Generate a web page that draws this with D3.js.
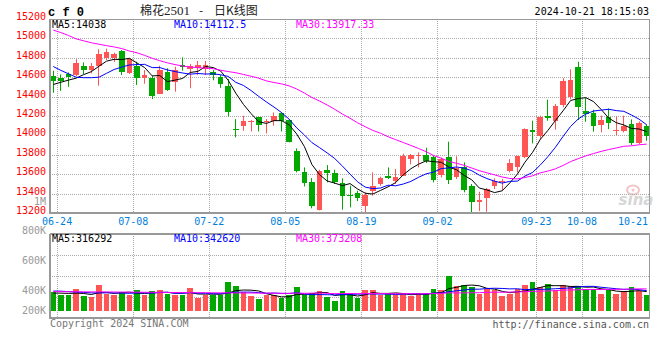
<!DOCTYPE html>
<html><head><meta charset="utf-8">
<script src="https://cdn.jsdelivr.net/npm/d3@7"></script>
<style>body{margin:0;background:#fff}svg{display:block}</style>
</head><body><svg id="c" width="660" height="360"></svg>
<script>
const dates = ["06-24","06-25","06-26","06-27","06-28","07-01","07-02","07-03","07-04","07-05",
"07-08","07-09","07-10","07-11","07-12","07-15","07-16","07-17","07-18","07-19",
"07-22","07-23","07-24","07-25","07-26","07-29","07-30","07-31","08-01","08-02",
"08-05","08-06","08-07","08-08","08-09","08-12","08-13","08-14","08-15","08-16",
"08-19","08-20","08-21","08-22","08-23","08-26","08-27","08-28","08-29","08-30",
"09-02","09-03","09-04","09-05","09-06","09-09","09-10","09-11","09-12","09-13",
"09-18","09-19","09-20","09-23","09-24","09-25","09-26","09-27","09-30",
"10-08","10-09","10-10","10-11","10-14","10-15","10-16","10-17","10-18","10-21"];
const openP = [14611,14590,14628,14621,14718,14670,14719,14801,14795,14873,
14646,14719,14595,14595,14430,14650,14547,14726,14681,14698,
14688,14654,14601,14505,14070,14093,14141,14186,14134,14151,
14227,14162,13842,13619,13523,13234,13646,13612,13512,13385,
13406,13275,13426,13495,13584,13526,13584,13752,13790,13797,
13773,13591,13780,13567,13670,13474,13309,13351,13474,13516,
13636,13670,13773,14055,13997,14203,14151,14313,14399,
14702,14254,14230,14110,14193,14045,14048,14117,13918,14100];
const highP = [14666,14628,14649,14786,14752,14746,14888,14894,14853,14880,
14795,14760,14674,14615,14719,14692,14708,14805,14736,14767,
14767,14674,14622,14581,14168,14203,14158,14192,14168,14237,
14237,14168,13866,13670,13560,13646,13694,13646,13557,13481,
13430,13413,13619,13574,13670,13653,13811,13808,13825,13873,
13790,13773,13935,13784,13722,13499,13419,13457,13557,13550,
13756,13790,14072,14151,14203,14368,14323,14590,14681,
14760,14385,14265,14203,14278,14196,14203,14165,14144,14113];
const lowP = [14439,14460,14501,14611,14632,14640,14512,14777,14757,14623,
14633,14520,14533,14375,14427,14458,14450,14667,14486,14623,
14623,14568,14491,14196,13980,14048,14041,14041,14020,14100,
14041,13928,13619,13474,13248,13227,13516,13499,13234,13258,
13323,13200,13378,13481,13550,13499,13581,13701,13670,13715,
13516,13567,13499,13550,13413,13200,13220,13213,13447,13430,
13619,13619,13766,13918,13955,14151,14059,14290,14372,
14159,14141,14038,14031,14065,14003,14031,13900,13911,13945];
const closeP = [14563,14559,14597,14742,14673,14715,14839,14857,14839,14657,
14784,14595,14623,14409,14674,14471,14674,14708,14718,14726,
14726,14620,14526,14237,14060,14151,14148,14110,14148,14203,
14151,13935,13632,13509,13268,13632,13608,13523,13378,13375,
13354,13389,13481,13564,13560,13574,13790,13793,13797,13732,
13536,13756,13543,13663,13440,13309,13330,13447,13526,13533,
13712,13784,14065,14035,14193,14175,14299,14561,14571,
14296,14217,14100,14158,14124,14055,14100,13921,14130,13990];
const volume = [319000,274000,263000,364000,250000,233000,431000,289000,274000,314000,
274000,347000,263000,330000,347000,280000,274000,274000,381000,218000,
274000,269000,263000,487000,417000,325000,258000,196000,263000,261000,
213000,261000,403000,263000,302000,333000,241000,164000,330000,297000,
224000,347000,347000,263000,297000,263000,297000,246000,302000,280000,
364000,347000,582000,414000,431000,403000,291000,364000,347000,246000,
291000,364000,431000,487000,403000,448000,358000,431000,420000,
414000,375000,375000,280000,358000,280000,336000,403000,336000,270000];
// moving-average values for days whose window starts before the first candle
const ma5Pre = [14525,14548,14570,14590];
const ma10Pre = [14710,14670,14635,14600,14595,14595,14600,14640,14680];
const ma30Pre = [15085,15060,15030,14995,14975,14955,14940,14925,14912,14895,14870,14852,14825,14795,14770,
14748,14730,14715,14705,14698,14694,14688,14672,14658,14646,14628,14610,14590,14562];
const volMa5Pre = [300000,300000,295000,300000];
const volMa10Pre = [335000,333000,325000,318000,312000,305000,303000,305000,303000];
const volMa30Pre = [325000,325000,324000,323000,322000,321000,321000,320000,319000,318000,317000,316000,315000,314000,313000,
312000,311000,310000,309000,308000,307000,306000,305000,304000,303000,303000,302000,301000,300000];
const priceTicks = [15200,15000,14800,14600,14400,14200,14000,13800,13600,13400,13200];
const volTickValues = [1000000,800000,600000,400000,200000];
const volTickLabels = ["1M","800K","600K","400K","200K"];
const xTickLabels = ["06-24","07-08","07-22","08-05","08-19","09-02","09-23","10-08","10-21"];
const maNames = ["MA5","MA10","MA30"];
const priceMaText = ["14038","14112.5","13917.33"];
const volMaText = ["316292","342620","373208"];
const titleParts = ["棉花","2501","-","日K线图"];
const symbolText = "c f 0";
const stamp = "2024-10-21 18:15:03";
const copyText = "Copyright 2024 SINA.COM";
const urlText = "http://finance.sina.com.cn";

// ---------- layout & styles ----------
const L = 50, R = 649, pTop = 19, pBot = 213, vTop = 234, vBot = 318;
const UP = "#ff5555", DOWN = "#00a800";
const maColors = ["#000000", "#0000ff", "#ff00ff"];
const mono = "'DejaVu Sans Mono', monospace";
const svg = d3.select("#c");
const n = dates.length;
const idx = d3.range(n);
const x = d3.scaleBand().domain(idx).range([49.5, 650.5]).padding(0);
const cx = i => x(i) + x.bandwidth() / 2;
const y = d3.scaleLinear().domain([13200, 15200]).range([pBot, pTop]);
const yv = d3.scaleLinear().domain([0, 1300000]).range([311, 233.6]);
const volLabelY = d3.scaleLinear().domain([400000, 1000000]).range([294, 204.5]);

function movingAvg(vals, k, pre) {
  return vals.map((v, i) => i < k - 1 ? pre[i] : d3.mean(vals.slice(i - k + 1, i + 1)));
}
const ma = [movingAvg(closeP, 5, ma5Pre), movingAvg(closeP, 10, ma10Pre), movingAvg(closeP, 30, ma30Pre)];
const vma = [movingAvg(volume, 5, volMa5Pre), movingAvg(volume, 10, volMa10Pre), movingAvg(volume, 30, volMa30Pre)];

const grid = svg.append("g").attr("stroke", "#aaa").attr("stroke-width", 1).attr("stroke-dasharray", "1,1");
// horizontal grid price
priceTicks.slice(1, -1).forEach(t => {
  const yy = Math.round(y(t)) + 0.5;
  grid.append("line").attr("x1", L).attr("x2", R).attr("y1", yy).attr("y2", yy);
});
// volume horizontal grid
[255.5, 276.5, 297.5].forEach(yy => grid.append("line").attr("x1", L).attr("x2", R).attr("y1", yy).attr("y2", yy));
// vertical grid at date ticks
const tickX = xTickLabels.map(d => x(dates.indexOf(d)) + x.step());
tickX.forEach(gx => {
  if (gx > R - 2) return;
  const xx = Math.floor(gx) + 0.5;
  grid.append("line").attr("x1", xx).attr("x2", xx).attr("y1", pTop).attr("y2", pBot);
  grid.append("line").attr("x1", xx).attr("x2", xx).attr("y1", vTop).attr("y2", vBot);
});

// candles
const cg = svg.append("g");
idx.forEach(i => {
  const up = closeP[i] >= openP[i];
  const col = up ? UP : DOWN;
  const wx = Math.floor(cx(i)) + 0.5;
  cg.append("line").attr("x1", wx).attr("x2", wx).attr("y1", y(highP[i])).attr("y2", y(lowP[i]))
    .attr("stroke", col).attr("stroke-width", 1);
  const l = Math.round(cx(i) - 2.8), r = Math.round(cx(i) + 2.8);
  const t = Math.round(y(Math.max(openP[i], closeP[i])));
  const b = Math.round(y(Math.min(openP[i], closeP[i])));
  cg.append("rect").attr("x", l).attr("y", t).attr("width", r - l).attr("height", Math.max(1, b - t)).attr("fill", col);
  // volume
  const vt = Math.round(yv(volume[i]));
  cg.append("rect").attr("x", l).attr("y", vt).attr("width", r - l).attr("height", yv(0) - vt).attr("fill", col);
});

// MA lines
const line = d3.line().x((d, i) => cx(i)).y(d => y(d));
const vline = d3.line().x((d, i) => cx(i)).y(d => yv(d));
ma.forEach((arr, k) => svg.append("path").attr("d", line(arr)).attr("fill", "none").attr("stroke", maColors[k]).attr("stroke-width", 1));
vma.forEach((arr, k) => svg.append("path").attr("d", vline(arr)).attr("fill", "none").attr("stroke", maColors[k]).attr("stroke-width", 1));

// borders
const bd = svg.append("g").attr("stroke", "#999").attr("fill", "none");
bd.append("line").attr("x1", L).attr("x2", R + 1).attr("y1", pTop + 0.5).attr("y2", pTop + 0.5);
bd.append("line").attr("x1", R + 0.5).attr("x2", R + 0.5).attr("y1", pTop).attr("y2", pBot);
bd.append("line").attr("x1", L).attr("x2", L).attr("y1", pTop).attr("y2", pBot + 1).attr("stroke-width", 2);
bd.append("line").attr("x1", L - 1).attr("x2", R + 1).attr("y1", pBot).attr("y2", pBot).attr("stroke-width", 2);
bd.append("line").attr("x1", L).attr("x2", R + 1).attr("y1", vTop).attr("y2", vTop).attr("stroke-width", 2);
bd.append("line").attr("x1", R + 0.5).attr("x2", R + 0.5).attr("y1", vTop).attr("y2", vBot);
bd.append("line").attr("x1", L).attr("x2", L).attr("y1", vTop).attr("y2", vBot + 1).attr("stroke-width", 2);
bd.append("line").attr("x1", L - 1).attr("x2", R + 1).attr("y1", vBot).attr("y2", vBot).attr("stroke-width", 2);

// axis labels
const tg = svg.append("g").attr("font-family", mono).attr("font-size", 10);
priceTicks.forEach(t => tg.append("text").attr("x", 46).attr("y", y(t) + 1).attr("text-anchor", "end").attr("fill", "#f00").text(t));
volTickValues.forEach((v, k) => tg.append("text").attr("x", 46).attr("y", Math.min(volLabelY(v), 314))
  .attr("text-anchor", "end").attr("fill", "#999").text(volTickLabels[k]));
xTickLabels.forEach((d, k) => {
  const gx = tickX[k];
  const last = gx + 15 > R;
  tg.append("text").attr("x", last ? R - 1 : gx).attr("y", 225).attr("text-anchor", last ? "end" : "middle")
    .attr("fill", "#0080dc").text(d);
});
// legends
const legX = [52, 174, 296];
maNames.forEach((m, k) => {
  tg.append("text").attr("x", legX[k]).attr("y", 28).attr("fill", maColors[k]).text(m + ":" + priceMaText[k]);
  tg.append("text").attr("x", legX[k]).attr("y", 242).attr("fill", maColors[k]).text(m + ":" + volMaText[k]);
});
// header
svg.append("text").attr("x", 48).attr("y", 16).attr("font-family", "'Liberation Mono', monospace").attr("font-weight", "bold")
  .attr("font-size", 12).attr("fill", "#000").text(symbolText);
const title = svg.append("text").attr("y", 15).attr("font-family", "'Noto Sans CJK SC', sans-serif").attr("font-size", 12).attr("fill", "#222");
title.append("tspan").attr("x", 140).text(titleParts[0]);
title.append("tspan").attr("x", 164).attr("font-family", "'Liberation Serif', serif").attr("font-size", 13).text(titleParts[1]);
title.append("tspan").attr("x", 199).text(titleParts[2]);
title.append("tspan").attr("x", 214).text(titleParts[3]);
tg.append("text").attr("x", R).attr("y", 15).attr("text-anchor", "end").attr("fill", "#000").text(stamp);
tg.append("text").attr("x", 50).attr("y", 327).attr("fill", "#777").text(copyText);
tg.append("text").attr("x", R).attr("y", 328).attr("text-anchor", "end").attr("fill", "#555").text(urlText);
// watermark
const wm = svg.append("g").attr("opacity", 0.6);
wm.append("ellipse").attr("cx", 633).attr("cy", 190).attr("rx", 6).attr("ry", 4.5).attr("fill", "none").attr("stroke", "#e8a0a0").attr("stroke-width", 2);
wm.append("circle").attr("cx", 633).attr("cy", 190).attr("r", 1.5).attr("fill", "#e8a0a0");
wm.append("text").attr("x", 636).attr("y", 205).attr("text-anchor", "middle").attr("font-family", "'DejaVu Sans', sans-serif")
  .attr("font-style", "italic").attr("font-weight", "bold").attr("font-size", 15).attr("fill", "#bbb").text("sina");
</script></body></html>
